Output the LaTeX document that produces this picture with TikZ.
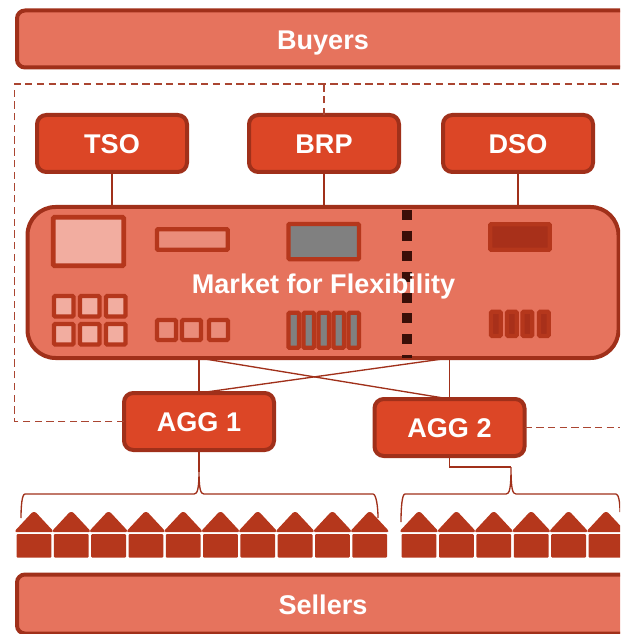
\documentclass[tikz,border=0pt]{standalone}
\usepackage{fontspec}
\setmainfont{Liberation Sans}
\definecolor{edgered}{RGB}{160,48,26}
\definecolor{boxred}{RGB}{220,70,38}
\definecolor{panelred}{RGB}{230,115,93}
\definecolor{tilered}{RGB}{181,55,28}
\definecolor{darkred}{RGB}{168,48,26}
\definecolor{lightred}{RGB}{242,173,160}
\definecolor{midred}{RGB}{234,140,122}
\definecolor{stopred}{RGB}{58,15,8}
\tikzset{
  every picture/.style={line width=0.75pt},
  actor/.style={draw=edgered,fill=boxred,line width=3pt,rounded corners=7pt,outer sep=0pt,inner sep=0pt,
    minimum width=112.5pt,minimum height=42.75pt,text=white,text height=15.6pt,text depth=0pt,
    font=\fontsize{20.3}{24}\selectfont\bfseries},
  band/.style={actor,fill=panelred,rounded corners=6pt,minimum width=459pt},
  title/.style={text=white,inner sep=0pt,text height=14.5pt,text depth=0pt,font=\fontsize{20.3}{24}\selectfont\bfseries},
  wire/.style={draw=edgered,line width=1pt},
  link/.style={draw=edgered!90!white,line width=1pt,dash pattern=on 5.5pt off 3.3pt},
  tile/.style={draw=tilered,line width=3.2pt,rounded corners=0.8pt},
  house/.style={fill=tilered,rounded corners=0.8pt}
}
\begin{document}
\begin{tikzpicture}[x=0.75pt,y=0.75pt,yscale=-1,xscale=1]
\useasboundingbox (0,0) rectangle (620,634);
\clip (0,0) rectangle (620,634);

% Bands
\node [band] (buyers) at (323,39) {Buyers};
\node [band,minimum height=44.25pt] (sellers) at (323,604) {Sellers};

% Market panel
\node [actor,fill=panelred,rounded corners=21pt,minimum width=443.25pt,minimum height=113.25pt] (market) at (323,282.5) {};

% Actors
\node [actor] (tso) at (112,143.5) {TSO};
\node [actor] (brp) at (324,143.5) {BRP};
\node [actor] (dso) at (518,143.5) {DSO};
\node [actor] (agg1) at (199,421.5) {AGG 1};
\node [actor] (agg2) at (449.5,427.5) {AGG 2};

% Solid connectors
\draw [wire] (tso.south) -- (tso.south |- market.north);
\draw [wire] (brp.south) -- (brp.south |- market.north);
\draw [wire] (dso.south) -- (dso.south |- market.north);
\draw [wire] (agg1.north) -- (agg1.north |- market.south);
\draw [wire] (agg2.north) -- (agg2.north |- market.south);
\draw [wire] (agg1.north) -- (agg2.north |- market.south);
\draw [wire] (agg2.north) -- (agg1.north |- market.south);

% Dashed connectors
\coordinate (topleft) at (14.5,84);
\coordinate (topright) at (620,84);
\draw [link] (agg1.west) -| (topleft) -- (topright);
\draw [link] (brp.north) -- (brp.north |- topleft);
\coordinate (sideright) at (620,427.5);
\draw [link] (agg2.east) -- (sideright);

% Left tiles
\draw [tile,line width=3.5pt,fill=lightred] (53.3,217.3) rectangle (123.7,265.7);
\draw [tile,fill=midred] (156.9,229.2) rectangle (227.8,249.8);
\foreach \cx/\cy in {54/296,80/296,106/296,54/324,80/324,106/324}
  \draw [tile,fill=lightred] (\cx,\cy) rectangle +(19.5,20.5);
\foreach \cx in {157,182,209}
  \draw [tile,fill=midred] (\cx,320) rectangle +(19,20);

% Middle tiles
\draw [tile,fill=gray] (288.4,223.9) rectangle (358.9,259.2);
\foreach \i in {0,...,4}
  \draw [tile,fill=gray] (288.4+\i*15,312.8) rectangle +(10.5,35);

% Right tiles
\draw [tile,fill=darkred] (490.2,224.2) rectangle (549.8,249.8);
\foreach \cx in {489,505,520.5,537}
  \draw [tile,fill=darkred] (\cx+2.1,311.8) rectangle +(9.6,24.2);

% Divider
\draw [stopred,line width=8pt,dash pattern=on 7.6pt off 7.9pt] (407,210) -- (407,358);

% Market title
\node [title] (markettitle) at (323.5,283.5) {Market for Flexibility};

% Braces
\draw [wire] (21,518) .. controls (21,506) and (22,494) .. (25,494) -- (194,494) .. controls (197.5,494) and (199,489) .. (199,470) .. controls (199,489) and (200.5,494) .. (204,494) -- (373,494) .. controls (376,494) and (378,506) .. (378,518);
\draw [wire] (agg1.south) -- (199,472);
\draw [wire] (401,522) .. controls (401,508) and (402,494) .. (405,494) -- (506,494) .. controls (509.5,494) and (511,489) .. (511,467) .. controls (511,489) and (512.5,494) .. (516,494) -- (616,494) .. controls (618.5,494) and (620,502) .. (620,512);
\draw [wire] (agg2.south) |- (511,467);

% Houses
\foreach \hx in {34,71.3,108.6,145.9,183.2,220.5,257.8,295.1,332.4,369.7,419,456.4,493.8,531.2,568.6,606}{
  \fill [house] (\hx-18.7,532) -- (\hx-18.7,530.5) -- (\hx-1.5,512) -- (\hx+1.5,512) -- (\hx+18.7,530.5) -- (\hx+18.7,532) -- cycle;
  \fill [house] (\hx-17.4,534) rectangle (\hx+17.4,557.7);
}
\end{tikzpicture}
\end{document}
